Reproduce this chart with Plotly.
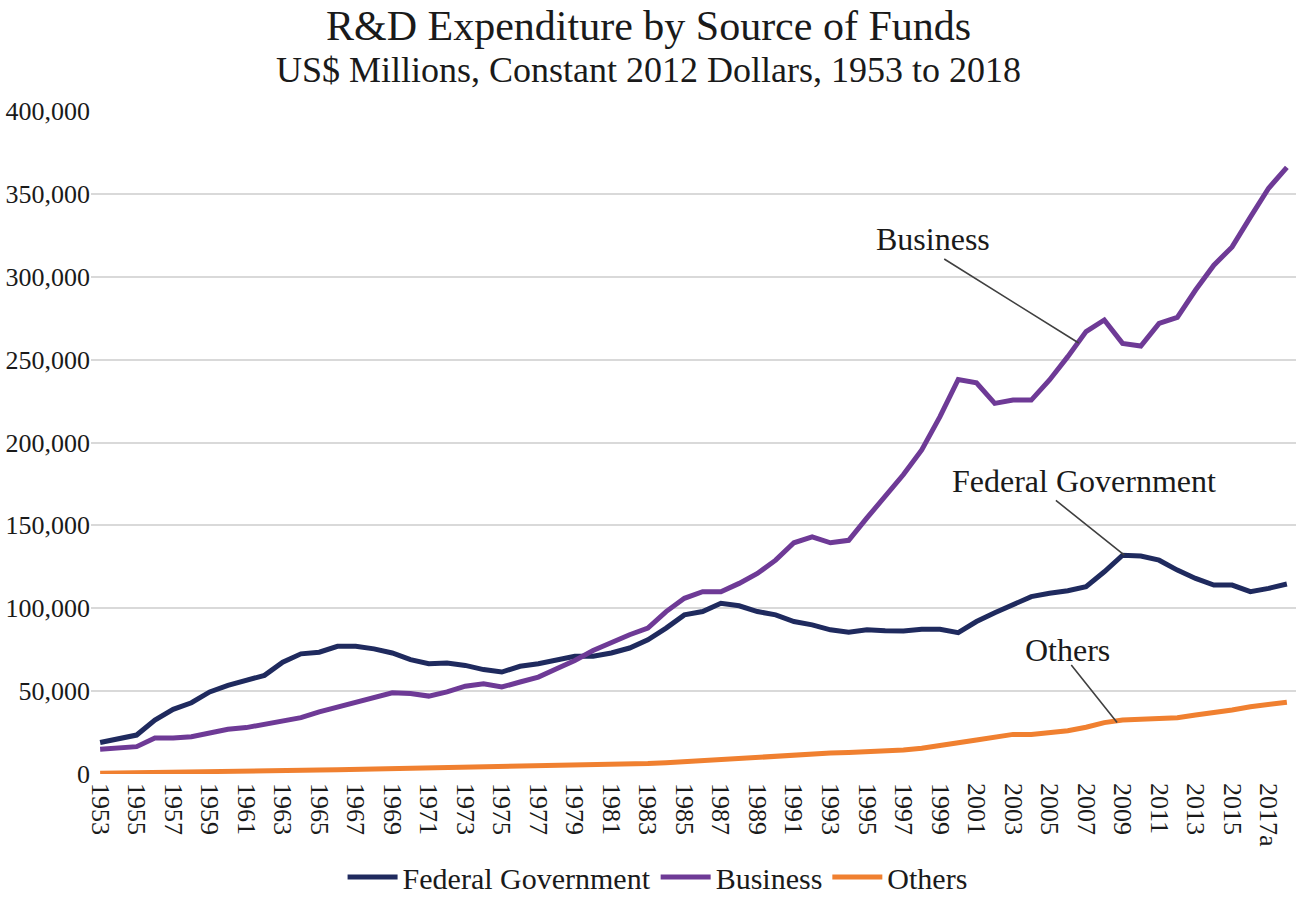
import plotly.graph_objects as go

years = ["1953", "1954", "1955", "1956", "1957", "1958", "1959", "1960", "1961", "1962",
         "1963", "1964", "1965", "1966", "1967", "1968", "1969", "1970", "1971", "1972",
         "1973", "1974", "1975", "1976", "1977", "1978", "1979", "1980", "1981", "1982",
         "1983", "1984", "1985", "1986", "1987", "1988", "1989", "1990", "1991", "1992",
         "1993", "1994", "1995", "1996", "1997", "1998", "1999", "2000", "2001", "2002",
         "2003", "2004", "2005", "2006", "2007", "2008", "2009", "2010", "2011", "2012",
         "2013", "2014", "2015", "2016", "2017a", "2018b"]

federal = [19000, 21000, 23500, 32500, 39000, 43000, 49500, 53500, 56500, 59500,
           67500, 72500, 73500, 77000, 77000, 75500, 73000, 69000, 66500, 67000,
           65500, 63000, 61500, 65000, 66500, 69000, 71000, 71000, 73000, 76000,
           81000, 88000, 96000, 98000, 103000, 101500, 98000, 96000, 92000, 90000,
           87000, 85500, 87000, 86500, 86300, 87300, 87300, 85300, 92000, 97300,
           102400, 107000, 109000, 110600, 113000, 122000, 132000, 131500, 129000, 123000,
           118000, 114000, 114000, 110000, 112000, 114600]

business = [15000, 15800, 16500, 21700, 21700, 22500, 24500, 27000, 28000, 30000,
            32000, 34000, 37500, 40500, 43500, 46500, 49000, 48500, 47000, 49500,
            53000, 54500, 52500, 55500, 58500, 63500, 68500, 74500, 79500, 84000,
            88000, 98000, 106000, 110000, 110000, 115000, 121000, 129000, 139500, 143000,
            139500, 141000, 154500, 167700, 180700, 195500, 215600, 238000, 236000, 223600,
            225600, 225600, 237700, 251800, 266900, 273900, 259800, 258200, 271900, 275500,
            292000, 307000, 318000, 336000, 353400, 366000]

others = [500, 600, 700, 800, 900, 1000, 1200, 1400, 1600, 1800,
          2000, 2200, 2400, 2600, 2800, 3000, 3200, 3400, 3600, 3700,
          3800, 3900, 4000, 4200, 4400, 4700, 5000, 5200, 5400, 5800,
          6300, 6800, 7500, 8300, 9000, 9800, 10500, 11200, 11800, 12200,
          12600, 13000, 13400, 13900, 14500, 15500, 16900, 18900, 20500, 22500,
          23900, 23900, 24900, 26100, 28200, 31000, 32600, 33200, 33200, 34000,
          35600, 37000, 38600, 40600, 42000, 43300]

series_names = ["Federal Government", "Business", "Others"]
series_colors = ["#1F2A5E", "#6E3A96", "#F08030"]
y_ticks = [0, 50000, 100000, 150000, 200000, 250000, 300000, 350000, 400000]

FONT = "Liberation Serif, Times New Roman, serif"
TXT = "#1a1a1a"

fig = go.Figure()
for name, vals, col in zip(series_names, [federal, business, others], series_colors):
    fig.add_trace(go.Scatter(x=years, y=vals, mode="lines", name=name,
                             line=dict(color=col, width=5)))

# callout labels: (text, text x index, text y, tip x index, tip y, tail dx, tail dy)
callouts = [
    ("Business", 45.6, 322800, 53.6, 260000, -136, -85),
    ("Federal Government", 53.9, 176800, 56.1, 132000, -70, -56),
    ("Others", 53.0, 74800, 55.7, 31000, -47, -59),
]
ann = []
for text, tx, ty, px, py, dx, dy in callouts:
    ann.append(dict(x=tx, y=ty, xref="x", yref="y", text=text, showarrow=False,
                    font=dict(family=FONT, size=32, color=TXT),
                    xanchor="center", yanchor="middle"))
    ann.append(dict(x=px, y=py, xref="x", yref="y", text="", showarrow=True,
                    ax=dx, ay=dy, arrowhead=0, arrowwidth=1.6, arrowcolor="#404040",
                    standoff=0, startstandoff=0))

ann.append(dict(text="R&D Expenditure by Source of Funds", xref="paper", yref="paper",
                x=0.463, y=1.166, showarrow=False, xanchor="center", yanchor="top",
                font=dict(family=FONT, size=42, color=TXT)))
ann.append(dict(text="US$ Millions, Constant 2012 Dollars, 1953 to 2018", xref="paper",
                yref="paper", x=0.463, y=1.062, showarrow=False, xanchor="center",
                yanchor="middle", font=dict(family=FONT, size=36, color=TXT)))

fig.update_layout(
    width=1297, height=903,
    margin=dict(l=91, r=1, t=111, b=129),
    paper_bgcolor="white", plot_bgcolor="white",
    font=dict(family=FONT, color=TXT),
    annotations=ann,
    showlegend=True,
    legend=dict(orientation="h", xref="container", yref="container", x=0.507, y=0.0,
                xanchor="center", yanchor="bottom", font=dict(family=FONT, size=30, color=TXT),
                itemwidth=50, tracegroupgap=0, bgcolor="rgba(0,0,0,0)"),
    xaxis=dict(type="category", tickmode="array", tickvals=years[::2], ticktext=years[::2],
               tickangle=90, tickfont=dict(family=FONT, size=26, color=TXT),
               ticklabelstandoff=8,
               showgrid=False, zeroline=False, showline=False, ticks="",
               range=[-0.5, len(years) - 0.5]),
    yaxis=dict(range=[0, 400000], tickmode="array", tickvals=y_ticks,
               tickformat=",", tickfont=dict(family=FONT, size=26, color=TXT),
               showgrid=True, gridcolor="#D9D9D9", gridwidth=2, zeroline=False,
               showline=False, ticks=""),
)

fig.write_html("out.html")
